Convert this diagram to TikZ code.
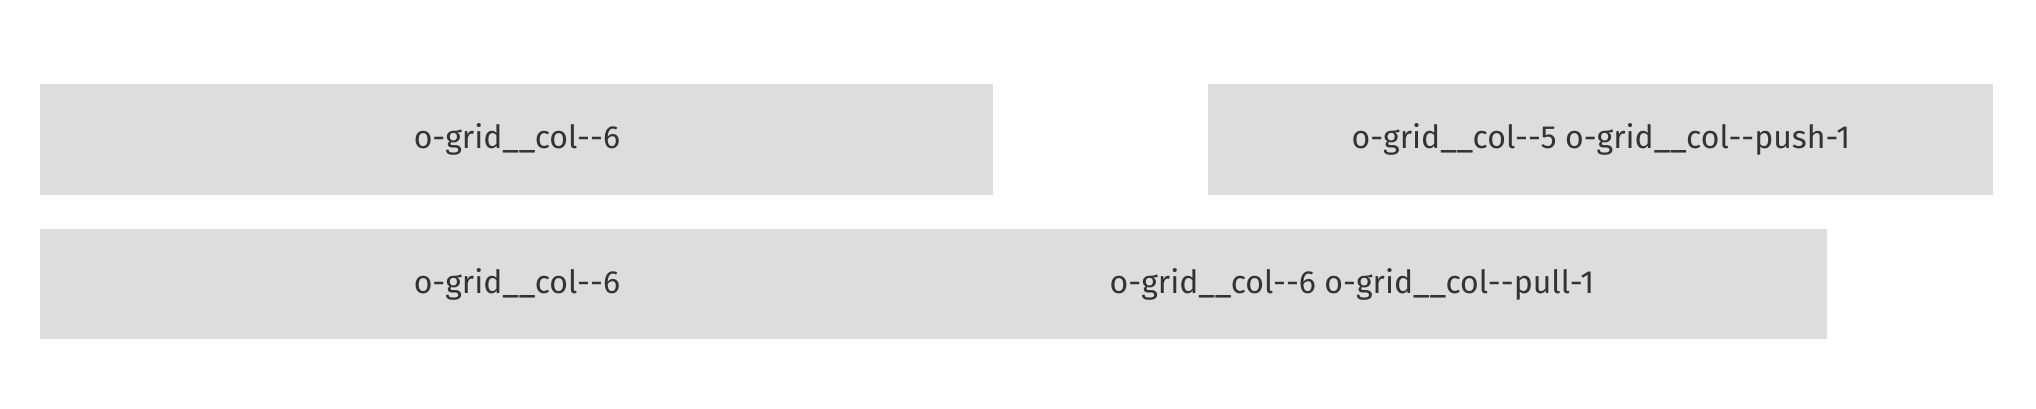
\documentclass[tikz,border=0pt]{standalone}
\usepackage{fontspec}
\setmainfont{Fira Sans}
\usepackage{xcolor}
\usetikzlibrary{positioning}
\definecolor{cellgrey}{HTML}{DDDDDD}
\definecolor{celltext}{HTML}{333333}
\tikzset{
    cell/.style={rectangle, fill=cellgrey, inner sep=0pt, anchor=north west, minimum height=55.25pt, text=celltext, font=\fontsize{16}{19}\selectfont},
    celltxt/.style={inner sep=0pt, text=celltext, font=\fontsize{16}{19}\selectfont}
}
\begin{document}
\begin{tikzpicture}[x=0.5pt, y=-0.5pt]
    \useasboundingbox (0,0) rectangle (2036,408);

    % first row
    \node (colsix) [cell, minimum width=476.5pt] at (40,84) {o-grid\_\_col-{}-6};
    \node (colpush) [cell, minimum width=392.5pt] at (1208,84) {o-grid\_\_col-{}-5 o-grid\_\_col-{}-push-1};

    % second row
    \node (rowtwo) [cell, minimum width=893.5pt] at (40,228.5) {};
    \node (pullleft) [celltxt] at (colsix.center |- rowtwo.center) {o-grid\_\_col-{}-6};
    \node (pullright) [celltxt] at (1352,0 |- rowtwo.center) {o-grid\_\_col-{}-6 o-grid\_\_col-{}-pull-1};
\end{tikzpicture}
\end{document}
